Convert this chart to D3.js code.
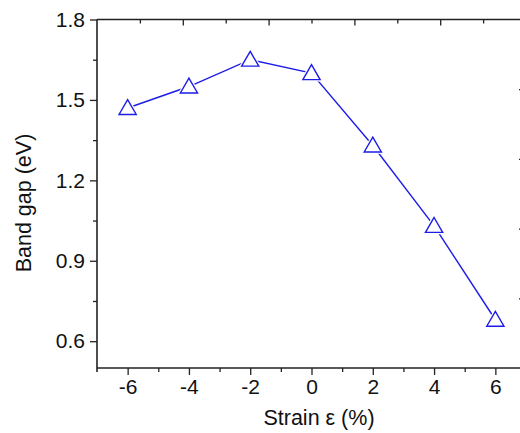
<!DOCTYPE html>
<html><head><meta charset="utf-8">
<script src="https://cdn.jsdelivr.net/npm/d3@7"></script>
<style>body{margin:0;background:#fff}svg{display:block}text{font-family:"Liberation Sans",Arial,sans-serif;fill:#111}</style>
</head><body><svg id="c" width="520" height="433"></svg>
<script>
const strain = [-6, -4, -2, 0, 2, 4, 6];
const bandGap = [1.47, 1.55, 1.65, 1.60, 1.33, 1.03, 0.68];
const xTicks = [-6, -4, -2, 0, 2, 4, 6];
const xMinor = [-5, -3, -1, 1, 3, 5];
const yTicks = [0.6, 0.9, 1.2, 1.5, 1.8];
const yMinor = [0.75, 1.05, 1.35, 1.65];
const topMajor = [1, 2, 3, 4];
const topMinor = [0.5, 1.5, 2.5, 3.5, 4.5];
const rightTicks = [1, 2, 3, 4];

const svg = d3.select("#c");
const L = 97, R = 526, T = 19.5, B = 368;
const x = d3.scaleLinear().domain([-7, 7]).range([L, R]);
const y = d3.scaleLinear().domain([0.5, 1.8]).range([B, T]);
const xTop = d3.scaleLinear().domain([0, 5]).range([L, R]);
const yRight = d3.scaleLinear().domain([0, 5]).range([B, T]);
const axisColor = "#222";
const FONT = '"Liberation Sans",Arial,sans-serif';

function style(g){ g.select(".domain").remove(); g.selectAll("line").attr("stroke", axisColor).attr("stroke-width", 1.3); }

// bottom axis
svg.append("g").attr("transform", `translate(0,${B})`)
  .call(d3.axisBottom(x).tickValues(xTicks).tickSize(7).tickPadding(4).tickFormat(d => String(d)))
  .call(style).selectAll("text").attr("font-size", 21).style("font-family", FONT).attr("fill", "#111");
svg.append("g").attr("transform", `translate(0,${B})`)
  .call(d3.axisBottom(x).tickValues(xMinor).tickSize(4).tickFormat(""))
  .call(style);
// left axis
svg.append("g").attr("transform", `translate(${L},0)`)
  .call(d3.axisLeft(y).tickValues(yTicks).tickSize(7).tickPadding(5).tickFormat(d => d.toFixed(1)))
  .call(style).selectAll("text").attr("font-size", 21).style("font-family", FONT).attr("fill", "#111");
svg.append("g").attr("transform", `translate(${L},0)`)
  .call(d3.axisLeft(y).tickValues(yMinor).tickSize(4).tickFormat(""))
  .call(style);
// top axis (ticks inward)
svg.append("g").attr("transform", `translate(0,${T})`)
  .call(d3.axisBottom(xTop).tickValues(topMajor).tickSize(6).tickFormat(""))
  .call(style);
svg.append("g").attr("transform", `translate(0,${T})`)
  .call(d3.axisBottom(xTop).tickValues(topMinor).tickSize(4).tickFormat(""))
  .call(style);
// right axis (ticks inward)
svg.append("g").attr("transform", `translate(${R},0)`)
  .call(d3.axisLeft(yRight).tickValues(rightTicks).tickSize(7).tickFormat(""))
  .call(style);

// frame lines
svg.append("line").attr("x1", L).attr("x2", L).attr("y1", T).attr("y2", B + 4).attr("stroke", axisColor).attr("stroke-width", 1.6);
svg.append("line").attr("x1", L).attr("x2", R).attr("y1", B).attr("y2", B).attr("stroke", axisColor).attr("stroke-width", 1.6);
svg.append("line").attr("x1", L).attr("x2", R).attr("y1", T).attr("y2", T).attr("stroke", axisColor).attr("stroke-width", 1.6);
svg.append("line").attr("x1", R).attr("x2", R).attr("y1", T).attr("y2", B).attr("stroke", axisColor).attr("stroke-width", 1.6);

// data
const data = strain.map((s, i) => ({ s, v: bandGap[i] }));
const blue = "#1c1ce8";
svg.append("path").datum(data)
  .attr("d", d3.line().x(d => x(d.s)).y(d => y(d.v)))
  .attr("fill", "none").attr("stroke", blue).attr("stroke-width", 1.4);

const tri = d3.symbol().type(d3.symbolTriangle).size(128);
const triBig = d3.symbol().type(d3.symbolTriangle).size(240);
svg.append("g").selectAll("path").data(data).join("path")
  .attr("transform", d => `translate(${x(d.s)},${y(d.v) + 1.5})`)
  .attr("d", triBig).attr("fill", "#fff");
svg.append("g").selectAll("path").data(data).join("path")
  .attr("transform", d => `translate(${x(d.s)},${y(d.v) + 1.5})`)
  .attr("d", tri).attr("fill", "none").attr("stroke", blue).attr("stroke-width", 1.4);

// titles
svg.append("text").attr("x", 319).attr("y", 425).attr("text-anchor", "middle").attr("font-size", 21.5).text("Strain ε (%)");
svg.append("text").attr("transform", "translate(31,203) rotate(-90)").attr("text-anchor", "middle").attr("font-size", 21.5).text("Band gap (eV)");
</script></body></html>
